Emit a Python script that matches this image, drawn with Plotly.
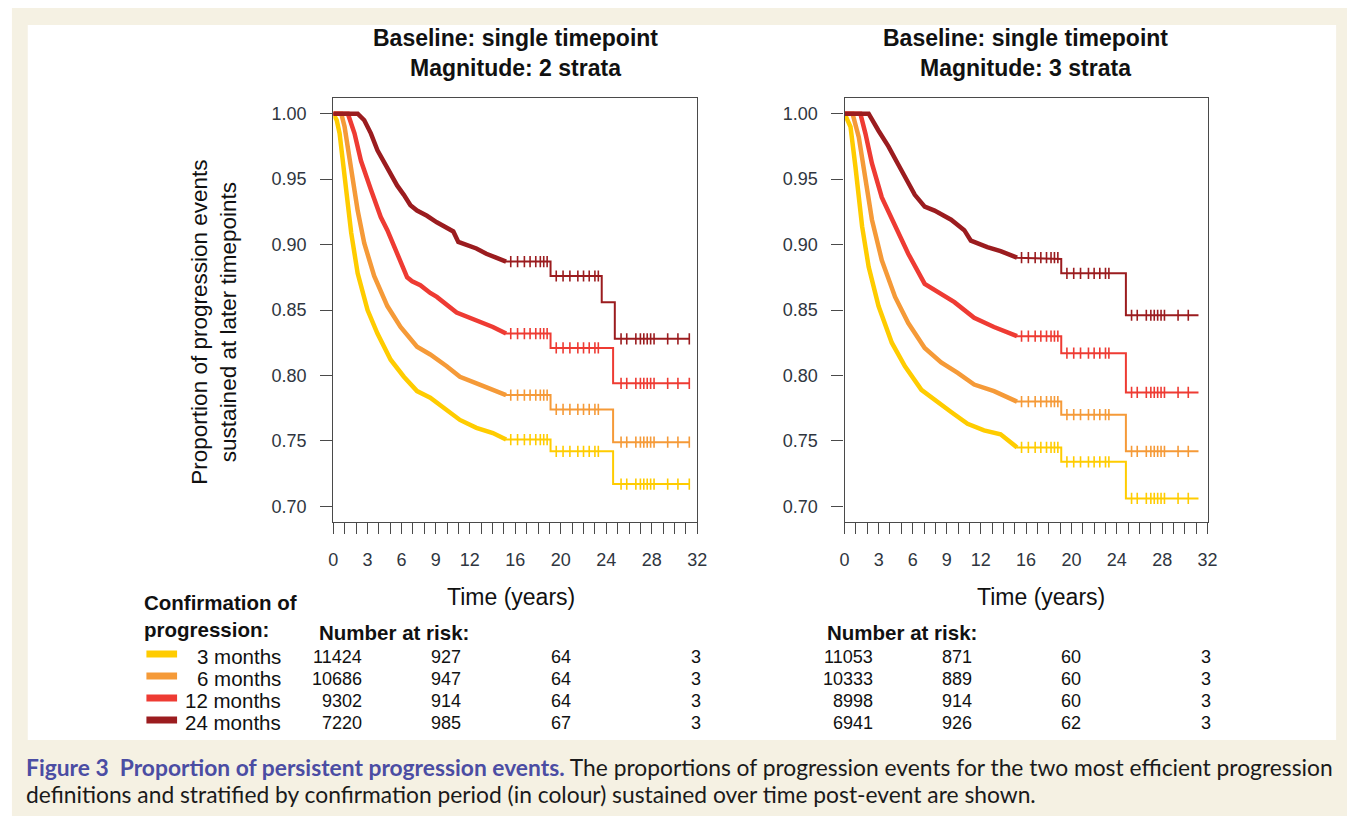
import plotly.graph_objects as go

W, H = 1357, 816
FONT = "Liberation Sans"

series_names = ["3 months", "6 months", "12 months", "24 months"]
colors = ["#FFCC00", "#F59A38", "#EE3B33", "#9B1C1F"]

# ---------------- Left panel (Magnitude: 2 strata) ----------------
L_t = {
    "3 months": [0, 0.3, 0.55, 0.99, 1.57, 2.14, 3.01, 3.88, 5.04, 6.2, 7.36, 8.52, 9.97, 11.13, 12.58, 14.03, 15.19, 19.1, 19.1, 24.6, 24.6, 31.3],
    "6 months": [0, 0.7, 0.99, 1.57, 2.14, 2.72, 3.59, 4.75, 5.91, 7.36, 8.52, 9.97, 11.13, 12.87, 14.03, 15.19, 19.1, 19.1, 24.6, 24.6, 31.3],
    "12 months": [0, 1.28, 1.86, 2.43, 3.3, 4.17, 4.75, 5.62, 6.49, 6.93, 7.65, 8.52, 9.1, 10.84, 12.29, 14.03, 15.19, 19.1, 19.1, 24.6, 24.6, 31.3],
    "24 months": [0, 2.14, 2.72, 3.3, 3.88, 4.46, 5.04, 5.62, 6.2, 6.78, 7.36, 8.23, 9.1, 9.97, 10.55, 10.99, 11.71, 12.58, 13.45, 14.03, 14.61, 15.19, 19.1, 19.1, 23.6, 23.6, 24.75, 24.75, 31.3],
}
L_s = {
    "3 months": [1.0, 0.995, 0.985, 0.952, 0.909, 0.878, 0.850, 0.832, 0.812, 0.799, 0.788, 0.783, 0.774, 0.766, 0.760, 0.756, 0.751, 0.751, 0.742, 0.742, 0.717, 0.717],
    "6 months": [1.0, 1.0, 0.990, 0.959, 0.926, 0.901, 0.876, 0.853, 0.837, 0.822, 0.816, 0.807, 0.799, 0.793, 0.789, 0.785, 0.785, 0.774, 0.774, 0.749, 0.749],
    "12 months": [1.0, 1.0, 0.985, 0.964, 0.942, 0.921, 0.911, 0.893, 0.875, 0.872, 0.869, 0.863, 0.860, 0.848, 0.843, 0.837, 0.832, 0.832, 0.821, 0.821, 0.794, 0.794],
    "24 months": [1.0, 1.0, 0.995, 0.985, 0.972, 0.963, 0.954, 0.945, 0.938, 0.930, 0.926, 0.922, 0.917, 0.913, 0.910, 0.902, 0.900, 0.897, 0.893, 0.891, 0.889, 0.887, 0.887, 0.876, 0.876, 0.856, 0.856, 0.828, 0.828],
}

# ---------------- Right panel (Magnitude: 3 strata) ----------------
R_t = {
    "3 months": [0, 0.52, 0.96, 1.54, 2.12, 2.99, 4.16, 5.32, 6.77, 7.93, 9.39, 10.84, 12.29, 13.75, 15.2, 19.1, 19.1, 24.8, 24.8, 31.2],
    "6 months": [0, 0.7, 1.25, 1.83, 2.41, 3.28, 4.45, 5.61, 7.06, 8.51, 9.97, 11.42, 13.17, 15.2, 19.1, 19.1, 24.8, 24.8, 31.2],
    "12 months": [0, 1.39, 1.83, 2.41, 3.28, 4.45, 5.61, 7.06, 8.22, 9.68, 11.42, 13.17, 15.2, 19.1, 19.1, 24.8, 24.8, 31.2],
    "24 months": [0, 2.12, 2.99, 3.86, 4.74, 6.19, 7.06, 7.93, 9.39, 10.55, 11.13, 12.58, 13.75, 15.2, 19.1, 19.1, 24.8, 24.8, 31.2],
}
R_s = {
    "3 months": [1.0, 0.990, 0.959, 0.914, 0.883, 0.853, 0.825, 0.807, 0.789, 0.781, 0.772, 0.763, 0.758, 0.755, 0.745, 0.745, 0.734, 0.734, 0.706, 0.706],
    "6 months": [1.0, 1.0, 0.982, 0.952, 0.919, 0.888, 0.860, 0.840, 0.821, 0.810, 0.802, 0.793, 0.788, 0.780, 0.780, 0.770, 0.770, 0.742, 0.742],
    "12 months": [1.0, 1.0, 0.985, 0.962, 0.936, 0.914, 0.893, 0.870, 0.864, 0.856, 0.844, 0.837, 0.830, 0.830, 0.817, 0.817, 0.787, 0.787],
    "24 months": [1.0, 1.0, 0.987, 0.975, 0.961, 0.938, 0.929, 0.926, 0.919, 0.911, 0.903, 0.898, 0.895, 0.890, 0.889, 0.878, 0.878, 0.846, 0.846],
}

# censoring times (marks "+")
censor_times = [15.6, 16.2, 16.8, 17.3, 17.8, 18.2, 18.5, 18.8, 19.6, 20.2, 20.8, 21.5, 22.0, 22.5,
                23.0, 23.3, 25.3, 25.8, 26.6, 27.0, 27.3, 27.6, 27.9, 28.2, 29.4, 30.3, 31.3]

# number at risk
risk_left = [[11424, 927, 64, 3], [10686, 947, 64, 3], [9302, 914, 64, 3], [7220, 985, 67, 3]]
risk_right = [[11053, 871, 60, 3], [10333, 889, 60, 3], [8998, 914, 60, 3], [6941, 926, 62, 3]]

x_tick_labels = {0: "0", 3: "3", 6: "6", 9: "9", 12: "12", 16: "16", 20: "20", 24: "24", 28: "28", 32: "32"}
y_ticks = [0.70, 0.75, 0.80, 0.85, 0.90, 0.95, 1.00]

titles = ["Baseline: single timepoint<br>Magnitude: 2 strata", "Baseline: single timepoint<br>Magnitude: 3 strata"]


def px(x):
    return x / W


def py(y):
    return 1 - y / H


def step_eval(ts, ss, c):
    v = ss[0]
    for t, s in zip(ts, ss):
        if t <= c:
            v = s
    return v


fig = go.Figure()

panels = [(L_t, L_s, "x", "y"), (R_t, R_s, "x2", "y2")]
for tdict, sdict, xa, ya in panels:
    for name, col in zip(series_names, colors):
        ts, ss = tdict[name], sdict[name]
        fig.add_trace(go.Scatter(x=ts, y=ss, mode="lines", line=dict(color=col, width=2),
                                 xaxis=xa, yaxis=ya, showlegend=False, hoverinfo="skip"))
        early = [(t, s) for t, s in zip(ts, ss) if t <= 15.3]
        fig.add_trace(go.Scatter(x=[e[0] for e in early], y=[e[1] for e in early], mode="lines",
                                 line=dict(color=col, width=4.5), xaxis=xa, yaxis=ya,
                                 showlegend=False, hoverinfo="skip"))
        cx = [c for c in censor_times if c <= ts[-1]]
        cy = [step_eval(ts, ss, c) for c in cx]
        fig.add_trace(go.Scatter(x=cx, y=cy, mode="markers",
                                 marker=dict(symbol="line-ns", size=8, line=dict(color=col, width=1.6)),
                                 xaxis=xa, yaxis=ya, showlegend=False, hoverinfo="skip"))

ydom = [py(522), py(98)]
xdoms = [[px(332), px(700)], [px(849), px(1216)]]

axis_common = dict(showgrid=False, zeroline=False, showline=True, linecolor="#4a4a4a", linewidth=1.3,
                   mirror=True, ticks="outside", tickcolor="#4a4a4a", tickwidth=1.3,
                   tickfont=dict(family=FONT, size=18, color="#2f3640"))

xa = dict(axis_common, range=[0, 32], tickvals=list(range(33)),
          ticktext=[x_tick_labels.get(i, "") for i in range(33)], ticklen=11, ticklabelstandoff=10)
ya = dict(axis_common, range=[0.688, 1.012], tickvals=y_ticks,
          ticktext=["%.2f" % v for v in y_ticks], ticklen=12, ticklabelstandoff=10)

fig.update_layout(
    width=W, height=H, margin=dict(l=0, r=0, t=0, b=0),
    paper_bgcolor="white", plot_bgcolor="white",
    xaxis=dict(xa, domain=xdoms[0], anchor="y"),
    yaxis=dict(ya, domain=ydom, anchor="x"),
    xaxis2=dict(xa, domain=xdoms[1], anchor="y2"),
    yaxis2=dict(ya, domain=ydom, anchor="x2"),
)

shapes = [
    dict(type="rect", xref="paper", yref="paper", x0=px(7), x1=1, y0=0, y1=py(8),
         fillcolor="#F5F1E3", line=dict(width=0), layer="below"),
    dict(type="rect", xref="paper", yref="paper", x0=px(23), x1=px(1346), y0=py(740), y1=py(25),
         fillcolor="white", line=dict(width=0), layer="below"),
]

ann = []
# titles
for i, xc in enumerate([516, 1032]):
    ann.append(dict(x=px(xc), y=py(53), xref="paper", yref="paper", text="<b>" + titles[i] + "</b>",
                    showarrow=False, xanchor="center", yanchor="middle",
                    font=dict(family=FONT, size=23, color="#111")))
# y axis title
ann.append(dict(x=px(211), y=py(322), xref="paper", yref="paper",
                text="Proportion of progression events<br>sustained at later timepoints",
                textangle=-90, showarrow=False, xanchor="center", yanchor="middle",
                font=dict(family=FONT, size=22.5, color="#111")))
# x axis titles
for xc in [512, 1048]:
    ann.append(dict(x=px(xc), y=py(597), xref="paper", yref="paper", text="Time (years)",
                    showarrow=False, xanchor="center", yanchor="middle",
                    font=dict(family=FONT, size=23, color="#111")))
# legend
ann.append(dict(x=px(139), y=py(616), xref="paper", yref="paper",
                text="<b>Confirmation of<br>progression:</b>", align="left",
                showarrow=False, xanchor="left", yanchor="middle",
                font=dict(family=FONT, size=20.5, color="#111")))
row_y = [657, 679, 701, 723]
for name, col, ry in zip(series_names, colors, row_y):
    ann.append(dict(x=px(281), y=py(ry - 1), xref="paper", yref="paper", text=name,
                    showarrow=False, xanchor="right", yanchor="middle",
                    font=dict(family=FONT, size=20.5, color="#111")))
    shapes.append(dict(type="line", xref="paper", yref="paper", x0=px(143), x1=px(174),
                       y0=py(ry - 3), y1=py(ry - 3), line=dict(color=col, width=7)))
# number at risk
for xa_name, left_px, risk in [("x", 315, risk_left), ("x2", 829, risk_right)]:
    ann.append(dict(x=px(left_px), y=py(632), xref="paper", yref="paper", text="<b>Number at risk:</b>",
                    showarrow=False, xanchor="left", yanchor="middle",
                    font=dict(family=FONT, size=20.5, color="#111")))
    for row, ry in zip(risk, row_y):
        for val, (cx, anc) in zip(row, [(2.7, "right"), (9.9, "center"), (20.0, "center"), (31.85, "center")]):
            ann.append(dict(x=cx, y=py(ry), xref=xa_name, yref="paper", text=str(val),
                            showarrow=False, xanchor=anc, yanchor="middle",
                            font=dict(family=FONT, size=18, color="#111")))
# caption
cap1 = ("<span style='color:#4B4DA3'><b>Figure 3\u00a0\u00a0Proportion of persistent progression events.</b></span>"
        " The proportions of progression events for the two most efficient progression")
cap2 = "definitions and stratified by confirmation period (in colour) sustained over time post-event are shown."
for txt, yy in [(cap1, 767), (cap2, 794)]:
    ann.append(dict(x=px(19), y=py(yy), xref="paper", yref="paper", text=txt,
                    showarrow=False, xanchor="left", yanchor="middle",
                    font=dict(family="Lato", size=22.8, color="#1a1a1a")))

fig.update_layout(annotations=ann, shapes=shapes)
fig.write_html("out.html")
